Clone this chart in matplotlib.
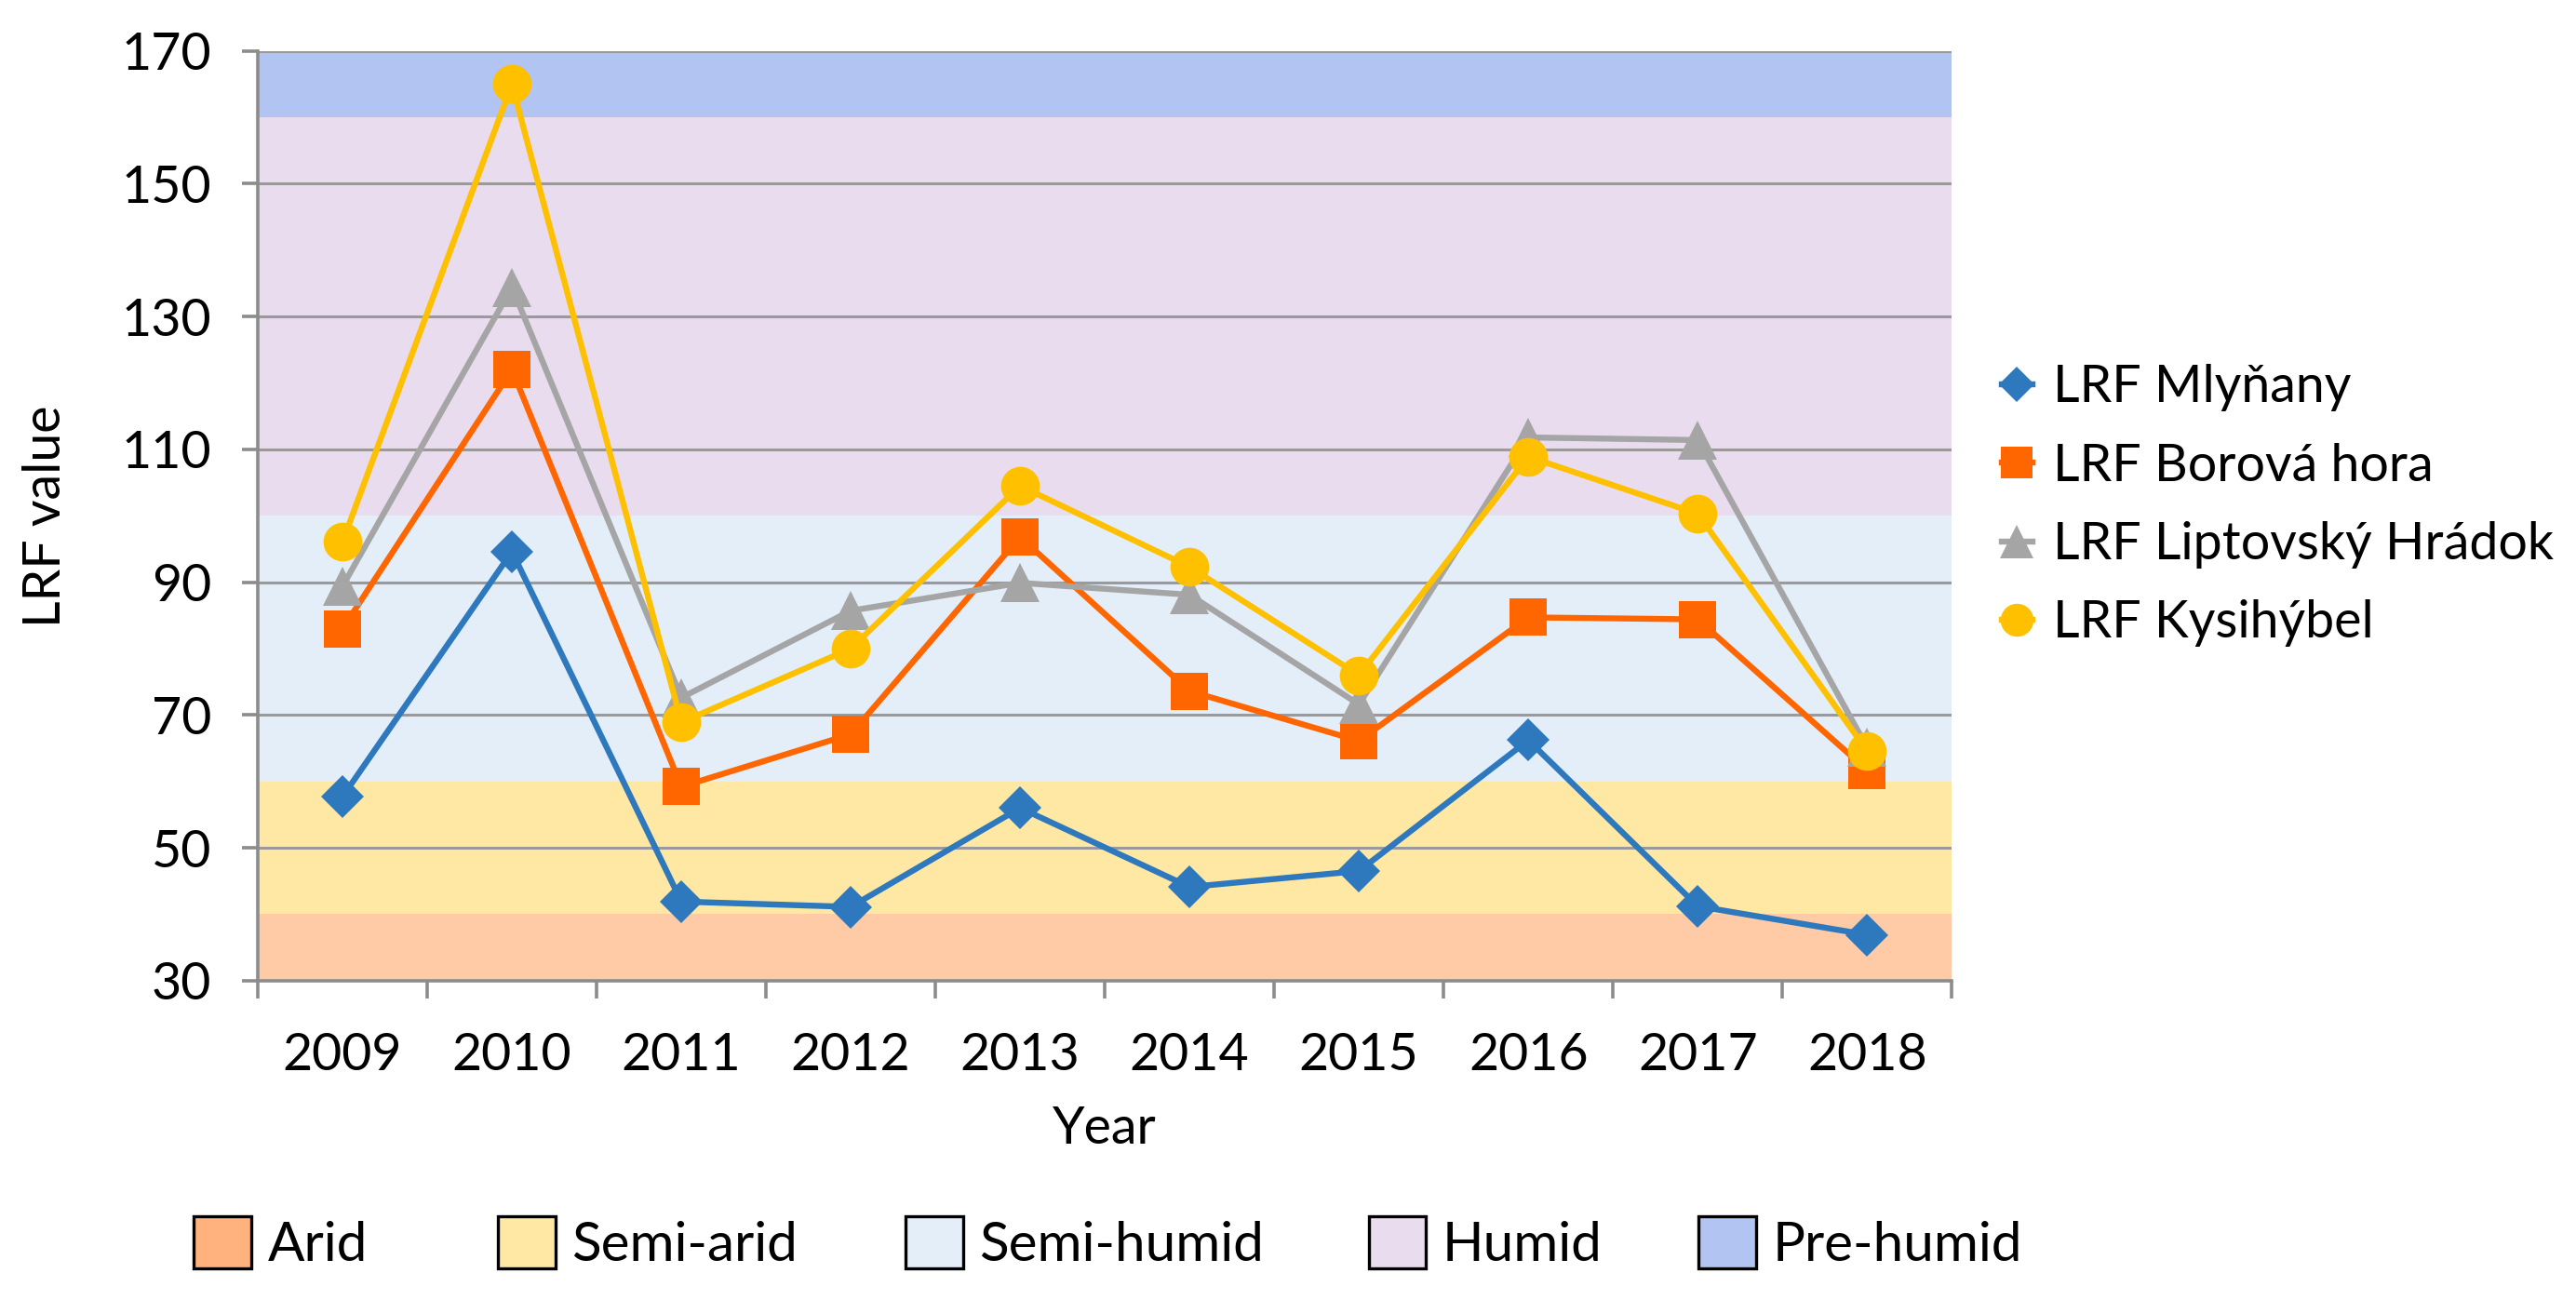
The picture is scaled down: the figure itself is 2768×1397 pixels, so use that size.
import matplotlib
matplotlib.use("Agg")
import matplotlib.pyplot as plt
from matplotlib.patches import Patch
from matplotlib.lines import Line2D

plt.rcParams['font.family'] = ['Lato', 'DejaVu Sans']

years = ["2009", "2010", "2011", "2012", "2013", "2014", "2015", "2016", "2017", "2018"]
mlynany = [57.7, 94.6, 41.9, 41.1, 56.0, 44.1, 46.5, 66.2, 41.2, 36.9]
borova = [83.0, 122.0, 59.2, 67.1, 96.8, 73.6, 66.1, 84.7, 84.4, 61.7]
liptov = [89.4, 134.4, 72.6, 85.7, 89.9, 88.1, 71.6, 111.8, 111.4, 65.1]
kysihybel = [96.1, 165.0, 68.9, 80.0, 104.5, 92.3, 76.0, 108.9, 100.3, 64.6]

series_names = ["LRF Mlyňany", "LRF Borová hora", "LRF Liptovský Hrádok", "LRF Kysihýbel"]

zone_names = ["Arid", "Semi-arid", "Semi-humid", "Humid", "Pre-humid"]
zone_bounds = [30, 40, 60, 100, 160, 170]
zone_colors = ["#FFCBA6", "#FFE8A3", "#E3EEF9", "#EADCEF", "#B1C4F2"]
zone_legend_colors = ["#FFB27D", "#FFE8A3", "#E3EEF9", "#EADCEF", "#B1C4F2"]
zone_legend_x = [0.0753, 0.1932, 0.3514, 0.5313, 0.6594]

fig = plt.figure(figsize=(13.84, 6.985), dpi=200)
ax = fig.add_axes([0.1001, 0.2457, 0.6576, 0.7151])

for i, c in enumerate(zone_colors):
    ax.axhspan(zone_bounds[i], zone_bounds[i + 1], color=c, zorder=0, lw=0)

x = list(range(len(years)))
styles = [
    (mlynany, "#2E78BD", "D", 11.5),
    (borova, "#FF6600", "s", 14.5),
    (liptov, "#A5A5A5", "^", 15),
    (kysihybel, "#FFC000", "o", 15),
]
handles = []
for (vals, col, mk, ms), name in zip(styles, series_names):
    ax.plot(x, vals, color=col, lw=2.3, marker=mk, markersize=ms,
            markeredgewidth=0, zorder=3, label=name)
    handles.append(Line2D([], [], color=col, lw=2.3, marker=mk,
                          markersize=ms * 0.85, markeredgewidth=0))

ax.set_xlim(-0.5, len(years) - 0.5)
ax.set_ylim(30, 170)
ax.set_yticks(range(30, 171, 20))
ax.set_xticks([i - 0.5 for i in range(len(years) + 1)])
ax.set_xticklabels([])
ax.set_xticks(x, minor=True)
ax.set_xticklabels(years, minor=True)
ax.tick_params(axis='x', which='minor', length=0, labelsize=20, pad=20)
ax.tick_params(axis='x', which='major', length=7, width=1.3, color="#8C8C8C")
ax.tick_params(axis='y', length=6, width=1.3, color="#8C8C8C", labelsize=20, pad=12)

ax.yaxis.grid(True, color="#9A9A9A", lw=1.1, zorder=1)
ax.set_axisbelow(True)
for s in ["top", "right"]:
    ax.spines[s].set_visible(False)
for s in ["left", "bottom"]:
    ax.spines[s].set_color("#8C8C8C")
    ax.spines[s].set_linewidth(1.3)

ax.set_xlabel("Year", fontsize=20, labelpad=10)
ax.set_ylabel("LRF value", fontsize=20, labelpad=20)

fig.legend(handles, series_names, loc="center left",
           bbox_to_anchor=(0.777, 0.611), frameon=False, fontsize=20,
           handlelength=0.6, handletextpad=0.4, labelspacing=0.6,
           borderpad=0, borderaxespad=0)

for name, c, xp in zip(zone_names, zone_legend_colors, zone_legend_x):
    fig.legend([Patch(facecolor=c, edgecolor="black", lw=1.2)], [name],
               loc="center left", bbox_to_anchor=(xp, 0.0436), frameon=False,
               fontsize=21, handlelength=1.06, handleheight=1.1,
               handletextpad=0.3, borderpad=0, borderaxespad=0)

fig.savefig("out.png", dpi=200)
